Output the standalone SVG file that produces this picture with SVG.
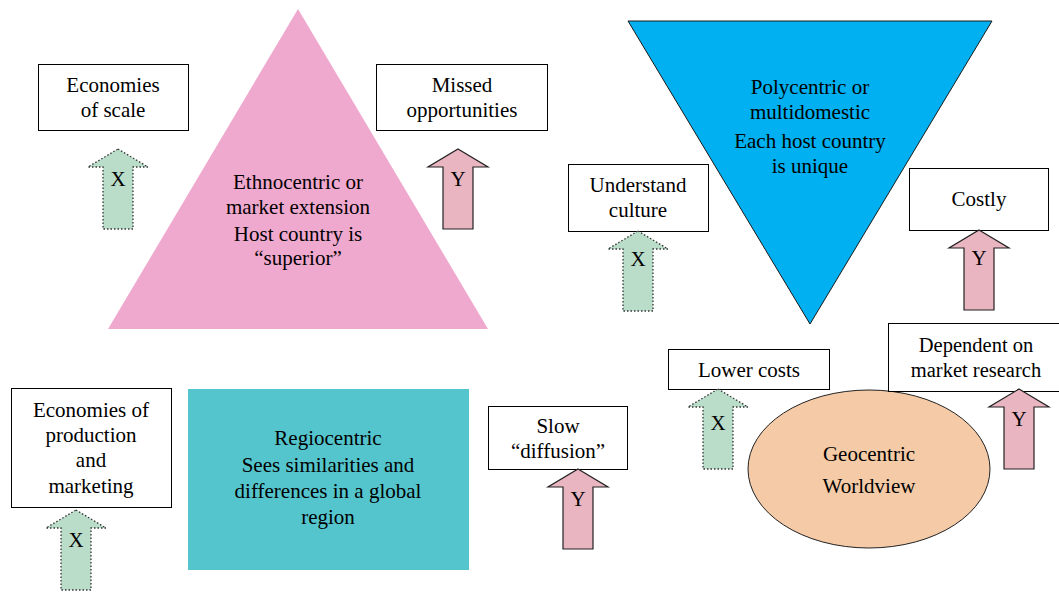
<svg xmlns="http://www.w3.org/2000/svg" width="1059" height="593" viewBox="0 0 1059 593">
<defs>
<style>
text{font-family:"Liberation Serif","Times New Roman",serif;font-size:21px;fill:#000;text-anchor:middle}
.box{fill:#fff;stroke:#000;stroke-width:1}
.ax{fill:#B9DDC9;stroke:#333;stroke-width:1.3;stroke-dasharray:1.5 2}
.ay{fill:#E8B5C0;stroke:#222;stroke-width:1.2}
</style>
<path id="arr" d="M0 0 L30 18 L15 18 L15 80 L-15 80 L-15 18 L-30 18 Z"/>
</defs>
<rect width="1059" height="593" fill="#fff"/>
<g id="ethnocentric">
<polygon points="298,9 488,329 108,329" fill="#F0A9CE"/>
<text x="298" y="189">Ethnocentric or</text>
<text x="298" y="214">market extension</text>
<text x="298" y="241">Host country is</text>
<text x="298" y="265">“superior”</text>
</g>
<g id="polycentric">
<polygon points="628,21 992,21 810,324" fill="#00B0F0" stroke="#1a1a1a" stroke-width="1"/>
<text x="810" y="94">Polycentric or</text>
<text x="810" y="119">multidomestic</text>
<text x="810" y="148">Each host country</text>
<text x="810" y="173">is unique</text>
</g>
<g id="regiocentric">
<rect x="188" y="389" width="281" height="181" fill="#55C5CD"/>
<text x="328" y="445">Regiocentric</text>
<text x="328" y="472">Sees similarities and</text>
<text x="328" y="498">differences in a global</text>
<text x="328" y="524">region</text>
</g>
<g id="geocentric">
<ellipse cx="869" cy="469" rx="121" ry="79" fill="#F5CBA7" stroke="#222" stroke-width="1"/>
<text x="869" y="461">Geocentric</text>
<text x="869" y="493">Worldview</text>
</g>
<g id="economies-scale">
<rect class="box" x="38.5" y="64.5" width="150" height="66"/>
<text x="113" y="92">Economies</text>
<text x="113" y="117">of scale</text>
</g>
<g id="missed">
<rect class="box" x="376.5" y="64.5" width="171" height="66"/>
<text x="462" y="92">Missed</text>
<text x="462" y="117">opportunities</text>
</g>
<g id="understand">
<rect class="box" x="568.5" y="164.5" width="140" height="67"/>
<text x="638" y="192">Understand</text>
<text x="638" y="217">culture</text>
</g>
<g id="costly">
<rect class="box" x="909.5" y="168.5" width="139" height="62"/>
<text x="979" y="206">Costly</text>
</g>
<g id="lower-costs">
<rect class="box" x="668.5" y="349.5" width="161" height="40"/>
<text x="749" y="377">Lower costs</text>
</g>
<g id="dependent">
<rect class="box" x="888.5" y="323.5" width="171" height="68"/>
<text x="976" y="352" style="font-size:20.5px">Dependent on</text>
<text x="976" y="377" style="font-size:20.5px">market research</text>
</g>
<g id="economies-production">
<rect class="box" x="11.5" y="388.5" width="160" height="119"/>
<text x="91" y="417">Economies of</text>
<text x="91" y="442">production</text>
<text x="91" y="467">and</text>
<text x="91" y="493">marketing</text>
</g>
<g id="slow">
<rect class="box" x="488.5" y="406.5" width="139" height="63"/>
<text x="558" y="433">Slow</text>
<text x="558" y="458">“diffusion”</text>
</g>
<g id="connectors">
<use href="#arr" class="ax" x="118" y="149"/><text x="118" y="186">X</text>
<use href="#arr" class="ay" x="458" y="149"/><text x="458" y="186">Y</text>
<use href="#arr" class="ax" x="638" y="231"/><text x="638" y="266">X</text>
<use href="#arr" class="ay" x="979" y="230"/><text x="979" y="265">Y</text>
<use href="#arr" class="ax" x="718" y="389"/><text x="718" y="430">X</text>
<use href="#arr" class="ay" x="1019" y="389"/><text x="1019" y="426">Y</text>
<use href="#arr" class="ax" x="76" y="510"/><text x="76" y="547">X</text>
<use href="#arr" class="ay" x="578" y="469"/><text x="578" y="506">Y</text>
</g>
</svg>
